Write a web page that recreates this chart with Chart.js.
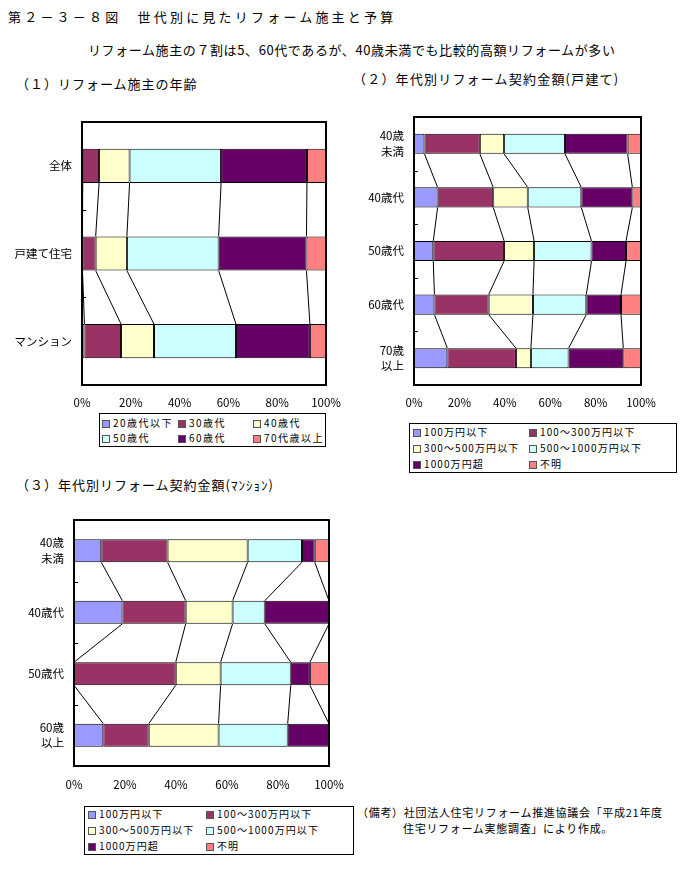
<!DOCTYPE html>
<html>
<head>
<meta charset="utf-8">
<script src="https://cdn.jsdelivr.net/npm/chart.js@4.4.1/dist/chart.umd.min.js"></script>
<style>
  body { margin: 0; background: #fff; font-family: "Noto Sans CJK JP", sans-serif; color: #000; }
  #page { position: relative; width: 685px; height: 888px; overflow: hidden; }
  .txt { position: absolute; white-space: nowrap; }
  canvas { position: absolute; }
  .legend { position: absolute; border: 1px solid #000; box-sizing: border-box; background: #fff; }
  .item { position: absolute; font-size: 10px; letter-spacing: 1.1px; line-height: 12px; white-space: nowrap; }
  #lg1 .item { letter-spacing: 1.5px; }
  .item i { display: inline-block; width: 6px; height: 6px; border: 1px solid #555; margin-right: 3px; vertical-align: -1px; }
</style>
</head>
<body>
<div id="page">
  <div class="txt" style="left:8px;top:7px;font-size:13px;letter-spacing:3.2px;">第２－３－８図　世代別に見たリフォーム施主と予算</div>
  <div class="txt" style="left:88px;top:40px;font-size:13px;letter-spacing:0.6px;">リフォーム施主の７割は5、60代であるが、40歳未満でも比較的高額リフォームが多い</div>
  <div class="txt" style="left:16px;top:74px;font-size:13px;letter-spacing:1px;">（１）リフォーム施主の年齢</div>
  <div class="txt" style="left:353px;top:69px;font-size:13px;letter-spacing:1.2px;">（２）年代別リフォーム契約金額(戸建て)</div>
  <div class="txt" style="left:16px;top:475px;font-size:13px;letter-spacing:1px;">（３）年代別リフォーム契約金額(ﾏﾝｼｮﾝ)</div>

  <canvas id="c1" style="left:0;top:110px;"></canvas>
  <canvas id="c2" style="left:350px;top:105px;"></canvas>
  <canvas id="c3" style="left:0;top:505px;"></canvas>

  <div class="legend" id="lg1" style="left:99px;top:413px;width:227px;height:34px;"></div>
  <div class="legend" id="lg2" style="left:409px;top:423px;width:268px;height:50px;"></div>
  <div class="legend" id="lg3" style="left:84px;top:806px;width:270px;height:49px;"></div>

  <div class="txt" style="left:357px;top:804px;font-size:11px;letter-spacing:0.7px;">（備考）社団法人住宅リフォーム推進協議会「平成21年度</div>
  <div class="txt" style="left:403px;top:820px;font-size:11px;letter-spacing:0.7px;">住宅リフォーム実態調査」により作成。</div>
</div>
<script>
// colours (Excel default palette)
const colors = ['#9999FF', '#993366', '#FFFFCC', '#CCFFFF', '#660066', '#FF8080'];

// (1) age of owners
const ownerCats = ['全体', '戸建て住宅', 'マンション'];
const ageNames = ['20歳代以下', '30歳代', '40歳代', '50歳代', '60歳代', '70代歳以上'];
const age20s = [0.3, 0.2, 1.0];
const age30s = [6.7, 5.4, 15.0];
const age40s = [12.5, 12.8, 13.5];
const age50s = [37.5, 37.6, 33.6];
const age60s = [35.2, 36.0, 30.3];
const age70s = [7.8, 8.0, 6.6];

// (2) contract amount, detached houses
const houseCats = [['40歳', '未満'], '40歳代', '50歳代', '60歳代', ['70歳', '以上']];
const costNames = ['100万円以下', '100～300万円以下', '300～500万円以下', '500～1000万円以下', '1000万円超', '不明'];
const h100 = [4.6, 10.4, 8.5, 9.0, 14.7];
const h300 = [24.4, 24.5, 31.2, 23.9, 30.2];
const h500 = [10.7, 15.2, 13.2, 19.5, 6.6];
const h1000 = [26.8, 23.6, 25.3, 23.5, 16.6];
const hOver = [27.6, 22.5, 15.2, 15.3, 24.1];
const hUnknown = [5.9, 3.8, 6.6, 8.8, 7.8];

// (3) contract amount, condominiums
const mansionCats = [['40歳', '未満'], '40歳代', '50歳代', ['60歳', '以上']];
const m100 = [10.7, 19.0, 0, 11.5];
const m300 = [26.0, 24.8, 39.9, 17.8];
const m500 = [31.4, 18.4, 17.6, 27.4];
const m1000 = [21.3, 12.6, 27.5, 27.1];
const mOver = [5.0, 25.2, 7.5, 16.2];
const mUnknown = [5.6, 0, 7.5, 0];

const xTicks = [0, 20, 40, 60, 80, 100];

// series lines + frame + inner category ticks
const decor = {
  id: 'decor',
  afterDatasetsDraw(chart) {
    const ctx = chart.ctx;
    const a = chart.chartArea;
    ctx.save();
    ctx.strokeStyle = '#000';
    ctx.lineWidth = 1;
    const n = chart.data.datasets.length;
    for (let d = 0; d < n - 1; d++) {
      const bars = chart.getDatasetMeta(d).data;
      for (let i = 0; i < bars.length - 1; i++) {
        const b1 = bars[i], b2 = bars[i + 1];
        ctx.beginPath();
        ctx.moveTo(b1.x, b1.y + b1.height / 2);
        ctx.lineTo(b2.x, b2.y - b2.height / 2);
        ctx.stroke();
      }
    }
    const ys = chart.scales.y;
    for (let i = 0; i < chart.data.labels.length - 1; i++) {
      const y = Math.round((ys.getPixelForValue(i) + ys.getPixelForValue(i + 1)) / 2) + 0.5;
      ctx.beginPath();
      ctx.moveTo(a.left, y);
      ctx.lineTo(a.left + 4, y);
      ctx.stroke();
    }
    ctx.lineWidth = 2;
    ctx.strokeRect(a.left, a.top, a.right - a.left, a.bottom - a.top);
    ctx.restore();
  }
};

function makeChart(id, w, h, cats, series, names, opt) {
  const cv = document.getElementById(id);
  cv.width = w; cv.height = h;
  cv.style.width = w + 'px'; cv.style.height = h + 'px';
  new Chart(cv, {
    type: 'bar',
    data: {
      labels: cats,
      datasets: series.map((s, k) => ({
        label: names[k],
        data: s,
        backgroundColor: colors[k],
        borderColor: '#000',
        borderWidth: 1,
        borderSkipped: false,
        categoryPercentage: 1,
        barPercentage: opt.bar
      }))
    },
    options: {
      indexAxis: 'y',
      responsive: false,
      animation: false,
      layout: { padding: { top: opt.top, right: opt.right, left: 0, bottom: 0 } },
      plugins: { legend: { display: false }, tooltip: { enabled: false } },
      scales: {
        x: {
          stacked: true, min: 0, max: 100,
          afterBuildTicks: s => { s.ticks = xTicks.map(v => ({ value: v })); },
          grid: { display: false, drawTicks: false },
          border: { display: false },
          afterFit: s => { s.height = opt.xh; s.paddingLeft = 0; s.paddingRight = 0; },
          ticks: { padding: opt.xpad, color: '#000', font: { family: 'Noto Sans CJK JP', size: 11.5 }, callback: v => v + '%' }
        },
        y: {
          stacked: true,
          grid: { display: false, drawTicks: false },
          border: { display: false },
          afterFit: s => { s.width = opt.yw; s.paddingTop = 0; s.paddingBottom = 0; },
          ticks: { padding: 10, color: '#000', font: { family: 'Noto Sans CJK JP', size: 11.5, lineHeight: 1.35 } }
        }
      }
    },
    plugins: [decor]
  });
}

makeChart('c1', 345, 300, ownerCats, [age20s, age30s, age40s, age50s, age60s, age70s], ageNames,
  { bar: 0.39, top: 12, right: 19, xh: 25, yw: 82, xpad: 11 });
makeChart('c2', 335, 310, houseCats, [h100, h300, h500, h1000, hOver, hUnknown], costNames,
  { bar: 0.375, top: 12, right: 44, xh: 30, yw: 64, xpad: 11 });
makeChart('c3', 345, 290, mansionCats, [m100, m300, m500, m1000, mOver, mUnknown], costNames,
  { bar: 0.375, top: 15, right: 16, xh: 29, yw: 74, xpad: 12 });

function legend(id, names, cols, rows) {
  const box = document.getElementById(id);
  names.forEach((n, k) => {
    const c = k % cols.length, r = Math.floor(k / cols.length);
    const el = document.createElement('div');
    el.className = 'item';
    el.style.left = cols[c] + 'px';
    el.style.top = (rows[r] - 6) + 'px';
    el.innerHTML = '<i style="background:' + colors[k] + '"></i>' + n;
    box.appendChild(el);
  });
}
legend('lg1', ageNames, [2, 78, 153], [9, 24]);
legend('lg2', costNames, [3, 119], [8, 24, 40]);
legend('lg3', costNames, [3, 121], [7, 23, 39]);
</script>
</body>
</html>
